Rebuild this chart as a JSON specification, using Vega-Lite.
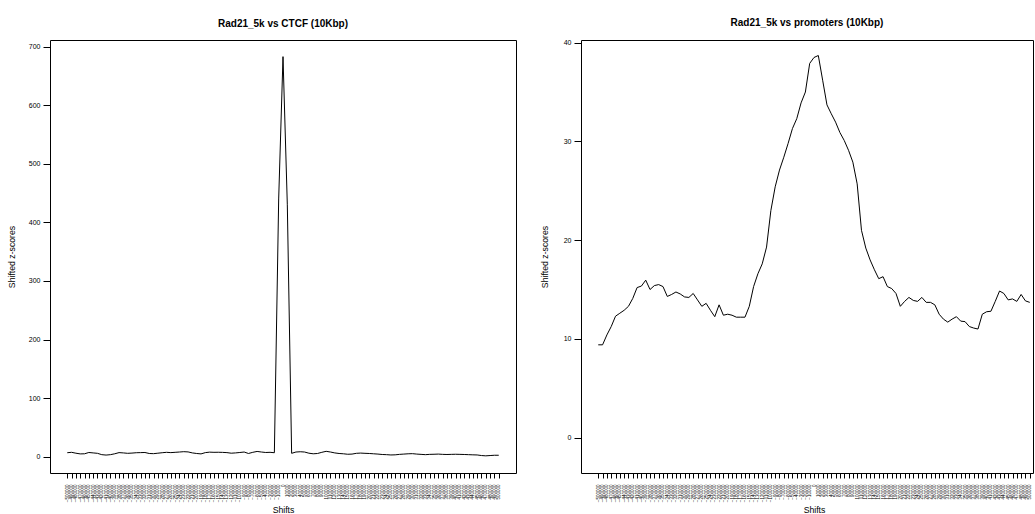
{
  "$schema": "https://vega.github.io/schema/vega-lite/v6.json",
  "padding": {"left": 6, "top": 17, "right": 0, "bottom": 0},
  "bounds": "flush",
  "spacing": 65,
  "config": {
    "font": "Liberation Sans",
    "view": {"stroke": "black", "strokeWidth": 1},
    "axis": {"domain": false, "grid": false, "tickColor": "black", "labelColor": "black", "titleColor": "black", "titleFontWeight": "normal"}
  },
  "datasets": {
    "ctcf": [
      {"shift": -500000, "z": 6.8}, {"shift": -490000, "z": 7.5}, {"shift": -480000, "z": 6.0}, {"shift": -470000, "z": 4.8}, {"shift": -460000, "z": 5.0},
      {"shift": -450000, "z": 7.2}, {"shift": -440000, "z": 6.5}, {"shift": -430000, "z": 5.8}, {"shift": -420000, "z": 3.5}, {"shift": -410000, "z": 2.8},
      {"shift": -400000, "z": 3.5}, {"shift": -390000, "z": 5.0}, {"shift": -380000, "z": 7.0}, {"shift": -370000, "z": 6.5}, {"shift": -360000, "z": 5.8},
      {"shift": -350000, "z": 6.2}, {"shift": -340000, "z": 6.8}, {"shift": -330000, "z": 7.0}, {"shift": -320000, "z": 7.2}, {"shift": -310000, "z": 5.5},
      {"shift": -300000, "z": 5.2}, {"shift": -290000, "z": 6.0}, {"shift": -280000, "z": 6.8}, {"shift": -270000, "z": 7.5}, {"shift": -260000, "z": 7.0},
      {"shift": -250000, "z": 7.5}, {"shift": -240000, "z": 8.0}, {"shift": -230000, "z": 8.6}, {"shift": -220000, "z": 8.2}, {"shift": -210000, "z": 6.5},
      {"shift": -200000, "z": 5.5}, {"shift": -190000, "z": 4.8}, {"shift": -180000, "z": 7.0}, {"shift": -170000, "z": 7.8}, {"shift": -160000, "z": 7.5},
      {"shift": -150000, "z": 7.6}, {"shift": -140000, "z": 7.4}, {"shift": -130000, "z": 7.0}, {"shift": -120000, "z": 6.0}, {"shift": -110000, "z": 6.5},
      {"shift": -100000, "z": 7.2}, {"shift": -90000, "z": 8.0}, {"shift": -80000, "z": 5.5}, {"shift": -70000, "z": 7.5}, {"shift": -60000, "z": 9.0},
      {"shift": -50000, "z": 8.0}, {"shift": -40000, "z": 7.2}, {"shift": -30000, "z": 7.5}, {"shift": -20000, "z": 6.8}, {"shift": -10000, "z": 440},
      {"shift": 0, "z": 683},
      {"shift": 10000, "z": 430}, {"shift": 20000, "z": 5.8}, {"shift": 30000, "z": 8.0}, {"shift": 40000, "z": 8.5}, {"shift": 50000, "z": 8.0},
      {"shift": 60000, "z": 6.0}, {"shift": 70000, "z": 5.0}, {"shift": 80000, "z": 5.5}, {"shift": 90000, "z": 7.5}, {"shift": 100000, "z": 9.2},
      {"shift": 110000, "z": 8.0}, {"shift": 120000, "z": 6.5}, {"shift": 130000, "z": 5.5}, {"shift": 140000, "z": 5.0}, {"shift": 150000, "z": 4.2},
      {"shift": 160000, "z": 4.5}, {"shift": 170000, "z": 5.8}, {"shift": 180000, "z": 6.2}, {"shift": 190000, "z": 5.8}, {"shift": 200000, "z": 5.5},
      {"shift": 210000, "z": 5.0}, {"shift": 220000, "z": 4.5}, {"shift": 230000, "z": 3.8}, {"shift": 240000, "z": 3.5}, {"shift": 250000, "z": 3.0},
      {"shift": 260000, "z": 3.2}, {"shift": 270000, "z": 4.0}, {"shift": 280000, "z": 4.5}, {"shift": 290000, "z": 5.0}, {"shift": 300000, "z": 5.2},
      {"shift": 310000, "z": 4.5}, {"shift": 320000, "z": 4.0}, {"shift": 330000, "z": 3.5}, {"shift": 340000, "z": 4.0}, {"shift": 350000, "z": 4.2},
      {"shift": 360000, "z": 4.5}, {"shift": 370000, "z": 4.0}, {"shift": 380000, "z": 3.8}, {"shift": 390000, "z": 4.0}, {"shift": 400000, "z": 4.2},
      {"shift": 410000, "z": 4.0}, {"shift": 420000, "z": 3.8}, {"shift": 430000, "z": 3.5}, {"shift": 440000, "z": 3.2}, {"shift": 450000, "z": 3.0},
      {"shift": 460000, "z": 2.0}, {"shift": 470000, "z": 1.5}, {"shift": 480000, "z": 2.0}, {"shift": 490000, "z": 2.5}, {"shift": 500000, "z": 2.5}
    ],
    "prom": [
      {"shift": -500000, "z": 9.4}, {"shift": -490000, "z": 9.4}, {"shift": -480000, "z": 10.4}, {"shift": -470000, "z": 11.25}, {"shift": -460000, "z": 12.3},
      {"shift": -450000, "z": 12.6}, {"shift": -440000, "z": 12.9}, {"shift": -430000, "z": 13.3}, {"shift": -420000, "z": 14.1}, {"shift": -410000, "z": 15.2},
      {"shift": -400000, "z": 15.35}, {"shift": -390000, "z": 15.95}, {"shift": -380000, "z": 15.0}, {"shift": -370000, "z": 15.4}, {"shift": -360000, "z": 15.5},
      {"shift": -350000, "z": 15.3}, {"shift": -340000, "z": 14.3}, {"shift": -330000, "z": 14.5}, {"shift": -320000, "z": 14.75}, {"shift": -310000, "z": 14.55},
      {"shift": -300000, "z": 14.25}, {"shift": -290000, "z": 14.2}, {"shift": -280000, "z": 14.6}, {"shift": -270000, "z": 13.95}, {"shift": -260000, "z": 13.3},
      {"shift": -250000, "z": 13.6}, {"shift": -240000, "z": 12.9}, {"shift": -230000, "z": 12.25}, {"shift": -220000, "z": 13.45}, {"shift": -210000, "z": 12.4},
      {"shift": -200000, "z": 12.5}, {"shift": -190000, "z": 12.4}, {"shift": -180000, "z": 12.2}, {"shift": -170000, "z": 12.2}, {"shift": -160000, "z": 12.2},
      {"shift": -150000, "z": 13.3}, {"shift": -140000, "z": 15.3}, {"shift": -130000, "z": 16.6}, {"shift": -120000, "z": 17.6}, {"shift": -110000, "z": 19.3},
      {"shift": -100000, "z": 23.0}, {"shift": -90000, "z": 25.4}, {"shift": -80000, "z": 27.1}, {"shift": -70000, "z": 28.4}, {"shift": -60000, "z": 29.8},
      {"shift": -50000, "z": 31.3}, {"shift": -40000, "z": 32.3}, {"shift": -30000, "z": 33.9}, {"shift": -20000, "z": 35.0}, {"shift": -10000, "z": 37.9},
      {"shift": 0, "z": 38.5},
      {"shift": 10000, "z": 38.7}, {"shift": 20000, "z": 36.2}, {"shift": 30000, "z": 33.7}, {"shift": 40000, "z": 32.8}, {"shift": 50000, "z": 31.95},
      {"shift": 60000, "z": 30.9}, {"shift": 70000, "z": 30.1}, {"shift": 80000, "z": 29.1}, {"shift": 90000, "z": 27.9}, {"shift": 100000, "z": 25.7},
      {"shift": 110000, "z": 21.0}, {"shift": 120000, "z": 19.2}, {"shift": 130000, "z": 18.0}, {"shift": 140000, "z": 17.0}, {"shift": 150000, "z": 16.1},
      {"shift": 160000, "z": 16.3}, {"shift": 170000, "z": 15.3}, {"shift": 180000, "z": 15.1}, {"shift": 190000, "z": 14.6}, {"shift": 200000, "z": 13.3},
      {"shift": 210000, "z": 13.8}, {"shift": 220000, "z": 14.2}, {"shift": 230000, "z": 13.9}, {"shift": 240000, "z": 13.8}, {"shift": 250000, "z": 14.2},
      {"shift": 260000, "z": 13.7}, {"shift": 270000, "z": 13.7}, {"shift": 280000, "z": 13.45}, {"shift": 290000, "z": 12.5}, {"shift": 300000, "z": 12.0},
      {"shift": 310000, "z": 11.7}, {"shift": 320000, "z": 12.0}, {"shift": 330000, "z": 12.25}, {"shift": 340000, "z": 11.8}, {"shift": 350000, "z": 11.75},
      {"shift": 360000, "z": 11.25}, {"shift": 370000, "z": 11.1}, {"shift": 380000, "z": 11.0}, {"shift": 390000, "z": 12.5}, {"shift": 400000, "z": 12.75},
      {"shift": 410000, "z": 12.8}, {"shift": 420000, "z": 13.8}, {"shift": 430000, "z": 14.85}, {"shift": 440000, "z": 14.6}, {"shift": 450000, "z": 13.95},
      {"shift": 460000, "z": 14.05}, {"shift": 470000, "z": 13.8}, {"shift": 480000, "z": 14.5}, {"shift": 490000, "z": 13.85}, {"shift": 500000, "z": 13.7}
    ]
  },
  "hconcat": [
    {
      "width": 466,
      "height": 433,
      "data": {"name": "ctcf"},
      "title": {"text": "Rad21_5k vs CTCF (10Kbp)", "fontSize": 10, "fontWeight": "bold", "offset": 3, "baseline": "alphabetic", "color": "black"},
      "mark": {"type": "line", "color": "black", "strokeWidth": 1},
      "encoding": {
        "x": {
          "field": "shift", "type": "quantitative",
          "scale": {"domain": [-540000, 540000], "nice": false, "zero": false},
          "axis": {"values": [-500000,-490000,-480000,-470000,-460000,-450000,-440000,-430000,-420000,-410000,-400000,-390000,-380000,-370000,-360000,-350000,-340000,-330000,-320000,-310000,-300000,-290000,-280000,-270000,-260000,-250000,-240000,-230000,-220000,-210000,-200000,-190000,-180000,-170000,-160000,-150000,-140000,-130000,-120000,-110000,-100000,-90000,-80000,-70000,-60000,-50000,-40000,-30000,-20000,-10000,0,10000,20000,30000,40000,50000,60000,70000,80000,90000,100000,110000,120000,130000,140000,150000,160000,170000,180000,190000,200000,210000,220000,230000,240000,250000,260000,270000,280000,290000,300000,310000,320000,330000,340000,350000,360000,370000,380000,390000,400000,410000,420000,430000,440000,450000,460000,470000,480000,490000,500000],
                   "format": "d", "labelAngle": -90, "labelFontSize": 4.5, "tickSize": 5, "labelPadding": 6, "labelOverlap": false, "labelFlush": false, "labelBound": false,
                   "title": "Shifts", "titleFontSize": 8.7, "titleX": 233, "titleY": 39, "titleBaseline": "alphabetic", "titleAlign": "center"}
        },
        "y": {
          "field": "z", "type": "quantitative",
          "scale": {"domain": [-27.8, 711.4], "nice": false, "zero": false},
          "axis": {"values": [0, 100, 200, 300, 400, 500, 600, 700], "labelFontSize": 7, "tickSize": 7, "labelPadding": 3,
                   "title": "Shifted z-scores", "titleFontSize": 8.7, "titleX": -39, "titleY": 216.5, "titleAngle": -90, "titleBaseline": "middle", "titleAlign": "center"}
        }
      }
    },
    {
      "width": 452,
      "height": 433,
      "data": {"name": "prom"},
      "title": {"text": "Rad21_5k vs promoters (10Kbp)", "fontSize": 10, "fontWeight": "bold", "offset": 3, "baseline": "alphabetic", "color": "black"},
      "mark": {"type": "line", "color": "black", "strokeWidth": 1},
      "encoding": {
        "x": {
          "field": "shift", "type": "quantitative",
          "scale": {"domain": [-540000, 507500], "nice": false, "zero": false},
          "axis": {"values": [-500000,-490000,-480000,-470000,-460000,-450000,-440000,-430000,-420000,-410000,-400000,-390000,-380000,-370000,-360000,-350000,-340000,-330000,-320000,-310000,-300000,-290000,-280000,-270000,-260000,-250000,-240000,-230000,-220000,-210000,-200000,-190000,-180000,-170000,-160000,-150000,-140000,-130000,-120000,-110000,-100000,-90000,-80000,-70000,-60000,-50000,-40000,-30000,-20000,-10000,0,10000,20000,30000,40000,50000,60000,70000,80000,90000,100000,110000,120000,130000,140000,150000,160000,170000,180000,190000,200000,210000,220000,230000,240000,250000,260000,270000,280000,290000,300000,310000,320000,330000,340000,350000,360000,370000,380000,390000,400000,410000,420000,430000,440000,450000,460000,470000,480000,490000,500000],
                   "format": "d", "labelAngle": -90, "labelFontSize": 4.5, "tickSize": 5, "labelPadding": 6, "labelOverlap": false, "labelFlush": false, "labelBound": false,
                   "title": "Shifts", "titleFontSize": 8.7, "titleX": 233, "titleY": 39, "titleBaseline": "alphabetic", "titleAlign": "center"}
        },
        "y": {
          "field": "z", "type": "quantitative",
          "scale": {"domain": [-3.58, 40.27], "nice": false, "zero": false},
          "axis": {"values": [0, 10, 20, 30, 40], "labelFontSize": 7, "tickSize": 7, "labelPadding": 3,
                   "title": "Shifted z-scores", "titleFontSize": 8.7, "titleX": -37, "titleY": 216.5, "titleAngle": -90, "titleBaseline": "middle", "titleAlign": "center"}
        }
      }
    }
  ]
}
